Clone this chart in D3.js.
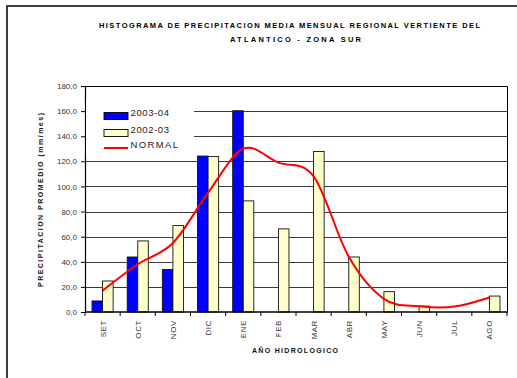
<!DOCTYPE html>
<html>
<head>
<meta charset="utf-8">
<script src="https://cdn.jsdelivr.net/npm/d3@7"></script>
<style>
    body { margin: 0; background: #fff; }
    svg { display: block; font-family: "Liberation Sans", Arial, sans-serif; }
</style>
</head>
<body>
<svg id="chart"></svg>
<script>
var months = ["SET", "OCT", "NOV", "DIC", "ENE", "FEB", "MAR", "ABR", "MAY", "JUN", "JUL", "AGO"];
var series = ["2003-04", "2002-03"];
var values0304 = [8.8, 43.8, 33.8, 124.2, 160.3, null, null, null, null, null, null, null];
var values0203 = [24.7, 56.6, 68.8, 123.8, 88.5, 66.2, 127.8, 43.8, 16.2, 4.7, null, 12.7];
var normal = [17, 38, 55, 95, 130, 119, 108, 44, 10.5, 4.6, 4.3, 11.5];
var yTicks = [0, 20, 40, 60, 80, 100, 120, 140, 160, 180];

var width = 517;
var height = 378;
// plot area (window.top is reserved, so own names)
var plotLeft = 85, plotRight = 507, plotTop = 86, plotBottom = 312;

var svg = d3.select("#chart")
    .attr("width", width)
    .attr("height", height);

// outer frame (runs off the right and bottom edges)
svg.append("rect")
    .attr("x", 7)
    .attr("y", 6)
    .attr("width", 600)
    .attr("height", 500)
    .attr("fill", "none")
    .attr("stroke", "#000")
    .attr("stroke-width", 1.5);

var x = d3.scaleBand()
    .domain(months)
    .range([plotLeft, plotRight]);

var xs = d3.scaleBand()
    .domain(series)
    .range([x.bandwidth() * 0.2, x.bandwidth() * 0.8]);

var y = d3.scaleLinear()
    .domain([0, 180])
    .range([plotBottom, plotTop]);

var color = { "2003-04": "#0000FF", "2002-03": "#FFFFCC" };

// gridlines
svg.append("g")
    .selectAll("line")
    .data(yTicks.filter(function (d) { return d > 0 && d < 180; }))
    .enter()
    .append("line")
    .attr("x1", plotLeft)
    .attr("x2", plotRight)
    .attr("y1", function (d) { return Math.round(y(d)) + 0.5; })
    .attr("y2", function (d) { return Math.round(y(d)) + 0.5; })
    .attr("stroke", "#3a3a3a")
    .attr("stroke-width", 1);

// plot frame top / right
svg.append("path")
    .attr("d", "M" + plotLeft + "," + (plotTop + 0.5) + "H" + (plotRight + 0.5) + "V" + plotBottom)
    .attr("fill", "none")
    .attr("stroke", "#000")
    .attr("stroke-width", 1);

// bars
var rows = months.map(function (m, i) {
    return { month: m, values: [
        { key: "2003-04", value: values0304[i] },
        { key: "2002-03", value: values0203[i] }
    ] };
});

var groups = svg.append("g")
    .selectAll("g")
    .data(rows)
    .enter()
    .append("g")
    .attr("transform", function (d) { return "translate(" + x(d.month) + ",0)"; });

groups.selectAll("rect")
    .data(function (d) { return d.values.filter(function (v) { return v.value != null; }); })
    .enter()
    .append("rect")
    .attr("x", function (d) { return xs(d.key); })
    .attr("y", function (d) { return y(d.value); })
    .attr("width", xs.bandwidth())
    .attr("height", function (d) { return y(0) - y(d.value); })
    .attr("fill", function (d) { return color[d.key]; })
    .attr("stroke", "#111")
    .attr("stroke-width", 0.9);

// normal line
var line = d3.line()
    .x(function (d, i) { return x(months[i]) + x.bandwidth() / 2; })
    .y(function (d) { return y(d); })
    .curve(d3.curveCatmullRom.alpha(0));

svg.append("path")
    .datum(normal)
    .attr("d", line)
    .attr("fill", "none")
    .attr("stroke", "#FF0000")
    .attr("stroke-width", 2);

// y axis
var yAxis = svg.append("g")
    .attr("transform", "translate(" + plotLeft + ",0)")
    .call(d3.axisLeft(y)
        .tickValues(yTicks)
        .tickSize(4)
        .tickPadding(4)
        .tickFormat(function (d) { return d3.format(".1f")(d).replace(".", ","); }));
yAxis.select(".domain").attr("stroke", "#000").attr("stroke-width", 1.2);
yAxis.selectAll("text")
    .attr("font-size", "8px")
    .attr("fill", "#333")
    .attr("font-family", "Liberation Sans, Arial, sans-serif");

// x axis: ticks between categories
var xAxis = svg.append("g")
    .attr("transform", "translate(0," + plotBottom + ")");
xAxis.append("line")
    .attr("x1", plotLeft)
    .attr("x2", plotRight + 1)
    .attr("stroke", "#000")
    .attr("stroke-width", 1.5);
xAxis.selectAll(".tk")
    .data(months.concat(["end"]))
    .enter()
    .append("line")
    .attr("class", "tk")
    .attr("x1", function (d, i) { return i < months.length ? x(d) : plotRight; })
    .attr("x2", function (d, i) { return i < months.length ? x(d) : plotRight; })
    .attr("y1", 0)
    .attr("y2", 4)
    .attr("stroke", "#000");
xAxis.selectAll(".lbl")
    .data(months)
    .enter()
    .append("text")
    .attr("class", "lbl")
    .attr("transform", function (d) {
        return "translate(" + (x(d) + x.bandwidth() / 2 + 3) + ",8) rotate(-90)";
    })
    .attr("text-anchor", "end")
    .attr("font-size", "8px")
    .attr("letter-spacing", "0.6px")
    .attr("fill", "#333")
    .text(function (d) { return d; });

// titles
svg.append("text")
    .attr("x", 99)
    .attr("y", 27.5)
    .attr("font-size", "7.5px")
    .attr("font-weight", "bold")
    .attr("fill", "#000")
    .attr("textLength", 381)
    .attr("lengthAdjust", "spacing")
    .text("HISTOGRAMA DE PRECIPITACION MEDIA MENSUAL REGIONAL VERTIENTE DEL");
svg.append("text")
    .attr("x", 230)
    .attr("y", 41.7)
    .attr("font-size", "7.5px")
    .attr("font-weight", "bold")
    .attr("fill", "#000")
    .attr("textLength", 131)
    .attr("lengthAdjust", "spacing")
    .text("ATLANTICO - ZONA SUR");

svg.append("text")
    .attr("x", 252)
    .attr("y", 353)
    .attr("font-size", "7px")
    .attr("font-weight", "bold")
    .attr("fill", "#111")
    .attr("textLength", 86)
    .attr("lengthAdjust", "spacing")
    .text("AÑO HIDROLOGICO");

svg.append("text")
    .attr("transform", "translate(42.5,287) rotate(-90)")
    .attr("font-size", "7px")
    .attr("font-weight", "bold")
    .attr("fill", "#111")
    .attr("textLength", 174)
    .attr("lengthAdjust", "spacing")
    .text("PRECIPITACION PROMEDIO (mm/mes)");

// legend
var legend = svg.append("g");
legend.append("rect")
    .attr("x", 86)
    .attr("y", 100)
    .attr("width", 108)
    .attr("height", 56)
    .attr("fill", "#fff");

var legendItems = [
    { label: "2003-04", type: "rect", fill: color["2003-04"], y: 116 },
    { label: "2002-03", type: "rect", fill: color["2002-03"], y: 133 },
    { label: "NORMAL", type: "line", fill: "#FF0000", y: 148 }
];

legendItems.forEach(function (d) {
    if (d.type === "rect") {
        legend.append("rect")
            .attr("x", 104)
            .attr("y", d.y - 3.5)
            .attr("width", 24)
            .attr("height", 7)
            .attr("fill", d.fill)
            .attr("stroke", "#000")
            .attr("stroke-width", 0.9);
    } else {
        legend.append("line")
            .attr("x1", 104)
            .attr("x2", 128)
            .attr("y1", d.y)
            .attr("y2", d.y)
            .attr("stroke", d.fill)
            .attr("stroke-width", 2);
    }
    legend.append("text")
        .attr("x", 130.5)
        .attr("y", d.y)
        .attr("font-size", "9.5px")
        .attr("letter-spacing", d.type === "line" ? "1.4px" : "0.6px")
        .attr("fill", "#222")
        .text(d.label);
});
</script>
</body>
</html>
